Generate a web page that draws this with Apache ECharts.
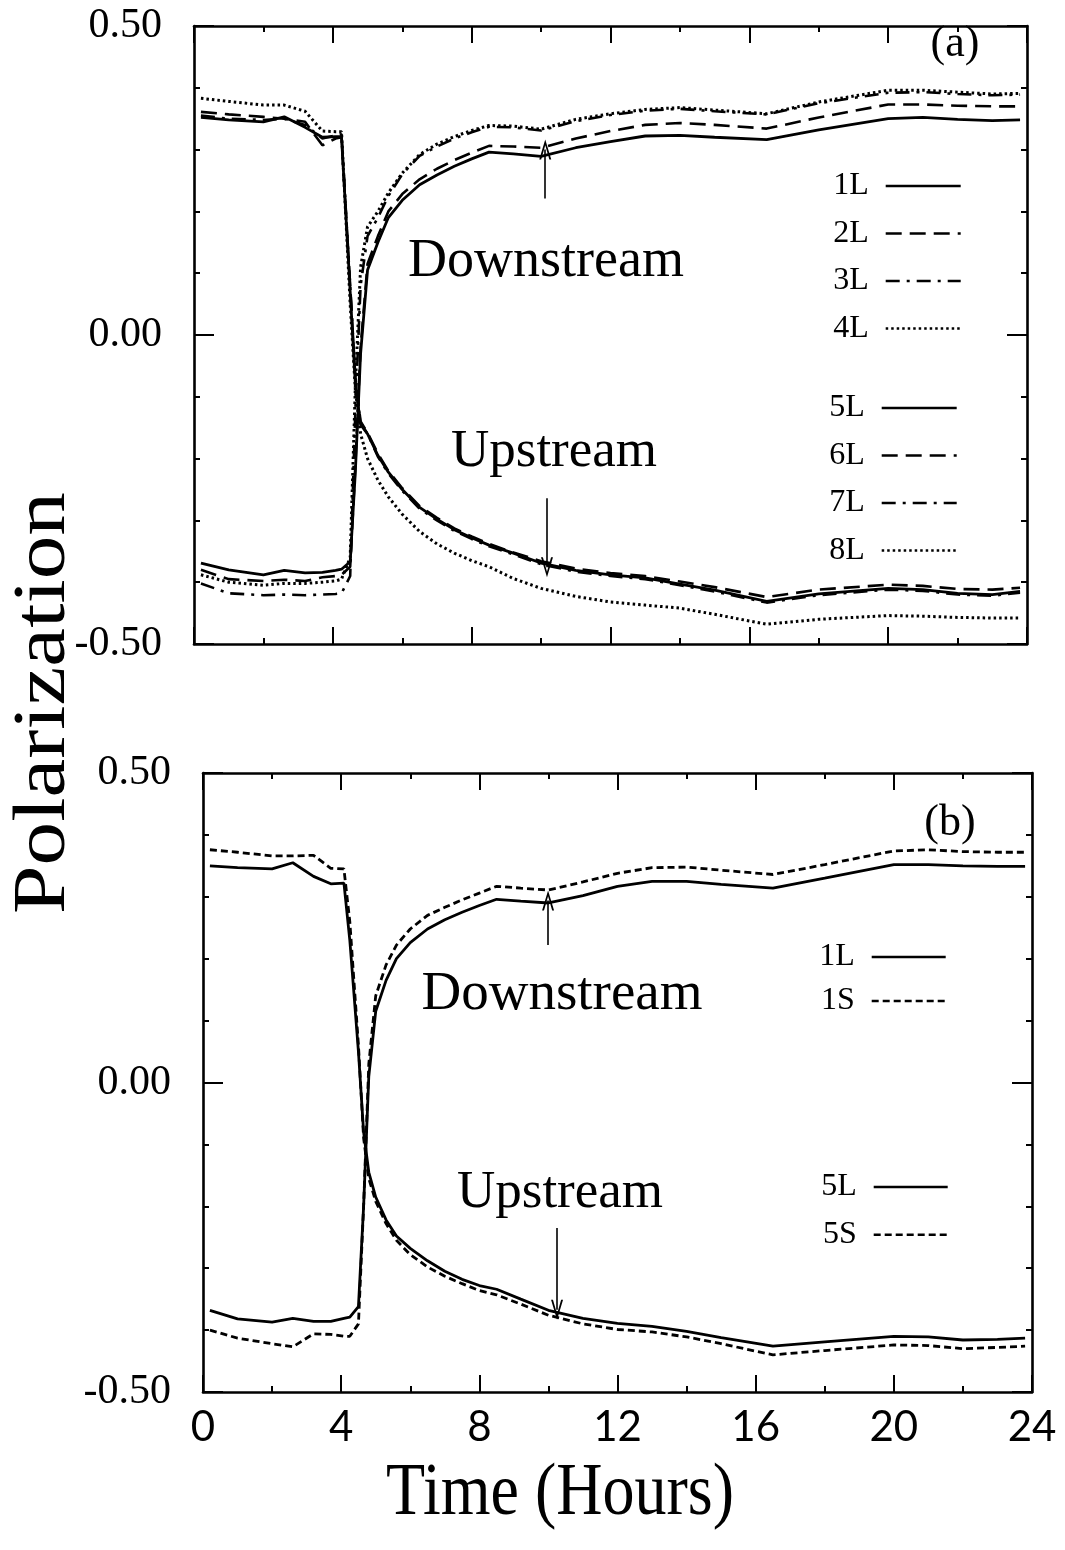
<!DOCTYPE html>
<html>
<head>
<meta charset="utf-8">
<script src="https://cdn.jsdelivr.net/npm/echarts@6/dist/echarts.min.js"></script>
<style>
html,body{margin:0;padding:0;background:#fff;}
#chart{width:1065px;height:1550px;}
</style>
</head>
<body>
<div id="chart"></div>
<script>
// ---------- DATA ----------
const TIME = [0.2, 1, 2, 2.6, 3.2, 3.7, 4.08, 4.25, 4.5, 4.65, 4.8, 5, 5.3, 5.6, 6, 6.5, 7, 7.5, 8, 8.5, 9.2, 10, 11, 12, 13, 14, 15, 16.5, 18, 20, 21, 22, 23, 23.8];
const X_TICKS = [0, 4, 8, 12, 16, 20, 24];
const Y_TICKS = [-0.5, 0, 0.5];

// Panel (a)
const a1L = [-0.369, -0.380, -0.388, -0.381, -0.385, -0.384, -0.381, -0.379, -0.367, -0.22, -0.03, 0.105, 0.15, 0.19, 0.218, 0.243, 0.259, 0.273, 0.285, 0.296, 0.293, 0.289, 0.303, 0.313, 0.322, 0.323, 0.320, 0.316, 0.332, 0.350, 0.352, 0.349, 0.347, 0.348];
const a2L = [-0.380, -0.395, -0.398, -0.396, -0.398, -0.392, -0.390, -0.388, -0.375, -0.21, -0.02, 0.115, 0.16, 0.20, 0.228, 0.252, 0.269, 0.283, 0.295, 0.306, 0.305, 0.303, 0.318, 0.330, 0.340, 0.343, 0.340, 0.334, 0.352, 0.373, 0.373, 0.371, 0.370, 0.370];
const a3L = [-0.402, -0.418, -0.421, -0.420, -0.421, -0.420, -0.419, -0.418, -0.39, -0.12, 0.08, 0.16, 0.19, 0.225, 0.26, 0.29, 0.305, 0.318, 0.328, 0.337, 0.336, 0.331, 0.346, 0.356, 0.363, 0.366, 0.362, 0.357, 0.375, 0.392, 0.393, 0.390, 0.388, 0.389];
const a4L = [-0.388, -0.400, -0.405, -0.402, -0.402, -0.400, -0.398, -0.395, -0.36, -0.08, 0.11, 0.175, 0.20, 0.23, 0.262, 0.292, 0.309, 0.321, 0.331, 0.339, 0.338, 0.333, 0.349, 0.358, 0.365, 0.368, 0.364, 0.358, 0.377, 0.396, 0.396, 0.393, 0.390, 0.391];
const a5L = [0.352, 0.348, 0.345, 0.353, 0.336, 0.320, 0.321, 0.321, 0.07, -0.08, -0.145, -0.16, -0.195, -0.222, -0.250, -0.279, -0.298, -0.315, -0.328, -0.340, -0.353, -0.369, -0.381, -0.388, -0.393, -0.403, -0.413, -0.431, -0.419, -0.410, -0.412, -0.418, -0.420, -0.415];
const a6L = [0.361, 0.357, 0.353, 0.350, 0.345, 0.307, 0.318, 0.320, 0.08, -0.07, -0.14, -0.158, -0.192, -0.220, -0.248, -0.277, -0.296, -0.313, -0.326, -0.338, -0.352, -0.366, -0.378, -0.385, -0.390, -0.399, -0.408, -0.424, -0.412, -0.404, -0.406, -0.411, -0.412, -0.409];
const a7L = [0.355, 0.350, 0.348, 0.350, 0.340, 0.318, 0.323, 0.325, 0.08, -0.075, -0.142, -0.16, -0.197, -0.224, -0.252, -0.281, -0.300, -0.317, -0.330, -0.342, -0.355, -0.371, -0.383, -0.390, -0.395, -0.405, -0.415, -0.433, -0.421, -0.412, -0.414, -0.420, -0.422, -0.417];
const a8L = [0.383, 0.378, 0.372, 0.372, 0.362, 0.330, 0.329, 0.329, 0.05, -0.09, -0.16, -0.20, -0.235, -0.262, -0.290, -0.318, -0.338, -0.353, -0.365, -0.375, -0.394, -0.410, -0.423, -0.432, -0.437, -0.442, -0.452, -0.468, -0.460, -0.454, -0.455, -0.457, -0.458, -0.458];

// Panel (b)
const b1L = [-0.368, -0.382, -0.387, -0.381, -0.386, -0.386, -0.381, -0.379, -0.362, -0.20, 0.01, 0.115, 0.165, 0.20, 0.226, 0.248, 0.263, 0.275, 0.286, 0.296, 0.293, 0.290, 0.302, 0.317, 0.325, 0.325, 0.320, 0.314, 0.330, 0.352, 0.352, 0.350, 0.349, 0.349];
const b1S = [-0.400, -0.413, -0.422, -0.427, -0.406, -0.407, -0.410, -0.410, -0.39, -0.20, 0.03, 0.14, 0.19, 0.222, 0.248, 0.270, 0.283, 0.295, 0.306, 0.317, 0.314, 0.311, 0.324, 0.338, 0.347, 0.348, 0.343, 0.336, 0.352, 0.374, 0.376, 0.373, 0.372, 0.372];
const b5L = [0.350, 0.347, 0.345, 0.355, 0.333, 0.321, 0.322, 0.23, 0.05, -0.08, -0.145, -0.185, -0.222, -0.248, -0.268, -0.288, -0.305, -0.318, -0.328, -0.334, -0.350, -0.368, -0.381, -0.389, -0.394, -0.402, -0.412, -0.426, -0.419, -0.410, -0.411, -0.416, -0.415, -0.413];
const b5S = [0.376, 0.372, 0.366, 0.366, 0.367, 0.346, 0.345, 0.26, 0.06, -0.09, -0.155, -0.192, -0.228, -0.255, -0.278, -0.298, -0.313, -0.325, -0.336, -0.343, -0.358, -0.376, -0.390, -0.399, -0.403, -0.411, -0.422, -0.440, -0.433, -0.424, -0.425, -0.430, -0.428, -0.426];

// Arrow annotations [time, tailValue, headValue]
const ARROWS_A = [[10.12, 0.221, 0.300], [10.17, -0.264, -0.376]];
const ARROWS_B = [[9.99, 0.222, 0.294], [10.25, -0.235, -0.367]];

// ---------- CHART ----------
const SERIF = '"Liberation Serif", "Times New Roman", serif';
const BLACK = '#000';
const chart = echarts.init(document.getElementById('chart'), null, {renderer: 'canvas'});

const pairs = arr => TIME.map((t, i) => [t, arr[i]]);
const ARROW_PATH = 'path://M5,0 L10,16 L8.4,16 L5,4.5 L1.6,16 L0,16 Z';

function line(name, arr, panel, dash, width, extra) {
  const s = {
    name: name, type: 'line',
    xAxisIndex: panel * 2, yAxisIndex: panel * 2,
    data: pairs(arr), symbol: 'none', showSymbol: false, smooth: false,
    lineStyle: {color: BLACK, width: width, type: dash},
    itemStyle: {color: BLACK},
    emphasis: {disabled: true}, silent: true
  };
  return Object.assign(s, extra || {});
}

function arrows(list) {
  return {
    silent: true, symbol: ['none', ARROW_PATH], symbolSize: [12, 20],
    lineStyle: {type: 'solid', color: BLACK, width: 1.6},
    label: {show: false}, emphasis: {disabled: true},
    data: list.map(a => [{coord: [a[0], a[1]]}, {coord: [a[0], a[2]]}])
  };
}

const axLine = {show: true, onZero: false, lineStyle: {color: BLACK, width: 2.6}};
function xAx(grid, pos, labels) {
  return {
    type: 'value', gridIndex: grid, position: pos, min: 0, max: 24, interval: 4,
    axisLine: axLine,
    axisTick: {show: true, inside: true, length: 17, lineStyle: {color: BLACK, width: 2}},
    minorTick: {show: true, splitNumber: 2, length: 6, lineStyle: {color: BLACK, width: 2}},
    splitLine: {show: false}, minorSplitLine: {show: false},
    axisLabel: labels ? {show: true, color: BLACK, fontFamily: 'Lato, "DejaVu Sans", sans-serif', fontSize: 42, margin: 14,
      formatter: v => X_TICKS.indexOf(v) >= 0 ? String(v) : ''} : {show: false}
  };
}
function yAx(grid, pos, labels) {
  return {
    type: 'value', gridIndex: grid, position: pos, min: -0.5, max: 0.5, interval: 0.5,
    axisLine: axLine,
    axisTick: {show: true, inside: true, length: 20, lineStyle: {color: BLACK, width: 2}},
    minorTick: {show: true, splitNumber: 5, length: 6, lineStyle: {color: BLACK, width: 2}},
    splitLine: {show: false}, minorSplitLine: {show: false},
    axisLabel: labels ? {show: true, color: BLACK, fontFamily: SERIF, fontSize: 42, margin: 32,
      formatter: v => Y_TICKS.some(t => Math.abs(t - v) < 1e-9) ? v.toFixed(2) : ''} : {show: false}
  };
}

function legend(names, top, right, gap, width) {
  return {
    data: names, orient: 'vertical', align: 'right', top: top, right: right,
    itemWidth: width, itemHeight: 14, itemGap: gap, padding: 0,
    selectedMode: false,
    itemStyle: {opacity: 0},
    lineStyle: {width: 2.6},
    textStyle: {fontFamily: SERIF, fontSize: 32, color: BLACK, lineHeight: 30, padding: [0, 12, 0, 0]}
  };
}

function txt(text, x, y, size, extra) {
  return Object.assign({
    type: 'text', x: x, y: y, silent: true,
    style: {text: text, fill: BLACK, font: size + 'px ' + SERIF, textAlign: 'center', textVerticalAlign: 'middle'}
  }, extra || {});
}

const DOT = [2.5, 3];
const option = {
  animation: false,
  backgroundColor: '#fff',
  grid: [
    {left: 194, top: 26, width: 833, height: 618, containLabel: false},
    {left: 203, top: 773, width: 829, height: 619, containLabel: false}
  ],
  xAxis: [xAx(0, 'bottom', false), xAx(0, 'top', false), xAx(1, 'bottom', true), xAx(1, 'top', false)],
  yAxis: [yAx(0, 'left', true), yAx(0, 'right', false), yAx(1, 'left', true), yAx(1, 'right', false)],
  legend: [
    legend(['1L', '2L', '3L', '4L'], 170, 103, 15.5, 75),
    legend(['5L', '6L', '7L', '8L'], 392, 107, 15.5, 75),
    legend(['1L', '1S'], 941, 118, 12, 74),
    legend(['5L', '5S'], 1171, 116, 15.7, 74)
  ],
  series: [
    line('1L', a1L, 0, 'solid', 2.8, {markLine: arrows(ARROWS_A)}),
    line('2L', a2L, 0, [16, 8], 2.6),
    line('3L', a3L, 0, [14, 7, 3, 7], 2.6),
    line('4L', a4L, 0, DOT, 3),
    line('5L', a5L, 0, 'solid', 2.8),
    line('6L', a6L, 0, [16, 8], 2.6),
    line('7L', a7L, 0, [14, 7, 3, 7], 2.6),
    line('8L', a8L, 0, DOT, 3),
    line('1L', b1L, 1, 'solid', 2.8, {markLine: arrows(ARROWS_B)}),
    line('1S', b1S, 1, [7, 4], 2.8),
    line('5L', b5L, 1, 'solid', 2.8),
    line('5S', b5S, 1, [7, 4], 2.8)
  ],
  graphic: [
    txt('(a)', 955, 44, 44),
    txt('Downstream', 546, 262, 54),
    txt('Upstream', 554, 452, 53),
    txt('(b)', 950, 823, 44),
    txt('Downstream', 562, 995, 55),
    txt('Upstream', 560, 1193, 53),
    txt('Polarization', 45, 703, 74, {rotation: Math.PI / 2, scaleX: 1.18}),
    txt('Time (Hours)', 560, 1495, 64, {scaleY: 1.15})
  ]
};
chart.setOption(option);
</script>
</body>
</html>
